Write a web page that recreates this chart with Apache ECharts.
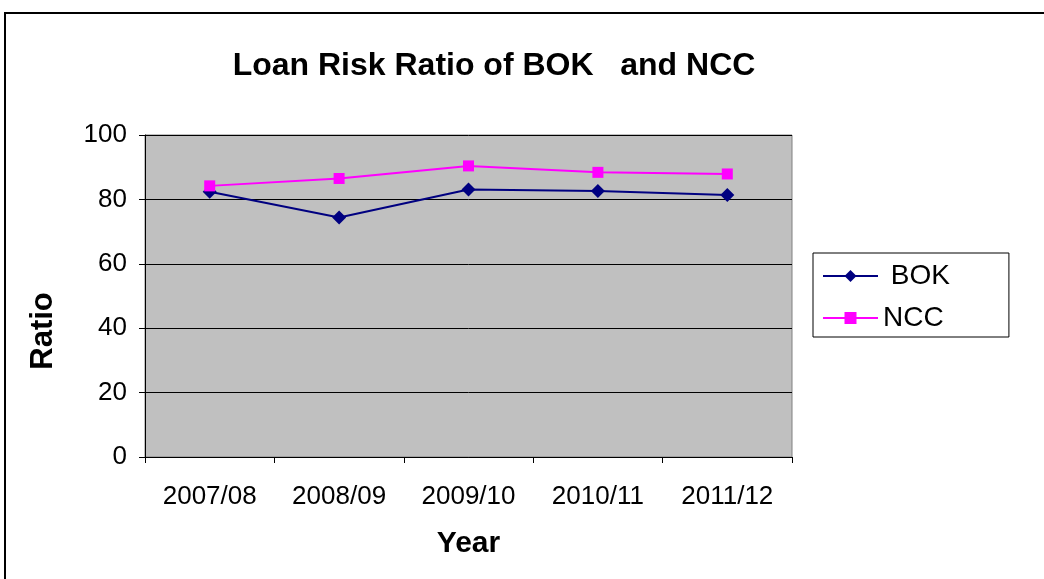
<!DOCTYPE html>
<html><head><meta charset="utf-8">
<script src="https://cdn.jsdelivr.net/npm/echarts@6/dist/echarts.min.js"></script>
<style>html,body{margin:0;padding:0;background:#fff}#c{width:1044px;height:579px}</style>
</head><body><div id="c"></div>
<script>
const categories = ['2007/08','2008/09','2009/10','2010/11','2011/12'];
const bok = [82.4, 74.4, 83.1, 82.6, 81.4];
const ncc = [84.2, 86.5, 90.4, 88.4, 87.9];
const yTicks = [0, 20, 40, 60, 80, 100];

const chart = echarts.init(document.getElementById('c'));
const F = 'Arial, "Liberation Sans", sans-serif';
chart.setOption({
  animation: false,
  backgroundColor: '#fff',
  title: {
    text: 'Loan Risk Ratio of BOK   and NCC',
    left: 489, top: 45, textAlign: 'center',
    textStyle: {fontFamily: F, fontSize: 32, fontWeight: 'bold', color: '#000'}
  },
  graphic: [{
    type: 'rect', shape: {x: 5, y: 13, width: 1060, height: 600},
    style: {fill: 'none', stroke: '#000', lineWidth: 2}, z: 100
  }, {
    type: 'text', x: 43, y: 331, rotation: Math.PI / 2,
    style: {text: 'Ratio', fontFamily: F, fontSize: 31, fontWeight: 'bold', fill: '#000',
      align: 'center', verticalAlign: 'middle'}
  }],
  legend: {
    orient: 'vertical', left: 813, top: 253,
    padding: [9, 59, 5, 9], itemGap: 14,
    borderColor: '#000', borderWidth: 1,
    itemWidth: 55, itemHeight: 15,
    textStyle: {fontFamily: F, fontSize: 28, color: '#000'},
    formatter: n => n === 'BOK' ? ' BOK' : n,
    data: ['BOK', 'NCC']
  },
  grid: {left: 145, top: 135, width: 647, height: 322, show: true,
    backgroundColor: '#C0C0C0', borderColor: '#808080', borderWidth: 1},
  xAxis: {
    type: 'category', data: categories, boundaryGap: true,
    name: 'Year', nameLocation: 'middle', nameGap: 72,
    nameTextStyle: {fontFamily: F, fontSize: 30, fontWeight: 'bold', color: '#000'},
    axisLine: {lineStyle: {color: '#000', width: 1}},
    axisTick: {show: true, length: 6, lineStyle: {color: '#000'}},
    axisLabel: {fontFamily: F, fontSize: 26, color: '#000', margin: 27}
  },
  yAxis: {
    type: 'value', min: 0, max: 100, interval: 20,
    axisLine: {show: true, lineStyle: {color: '#000'}},
    axisTick: {show: true, length: 6, lineStyle: {color: '#000'}},
    axisLabel: {fontFamily: F, fontSize: 26, color: '#000', margin: 18,
      formatter: v => yTicks.includes(v) ? String(v) : ''},
    splitLine: {show: true, lineStyle: {color: '#000', width: 1}}
  },
  series: [
    {name: 'BOK', type: 'line', data: bok, symbol: 'diamond', symbolSize: 14,
      lineStyle: {color: '#000080', width: 2}, itemStyle: {color: '#000080'}},
    {name: 'NCC', type: 'line', data: ncc, symbol: 'rect', symbolSize: 11,
      lineStyle: {color: '#FF00FF', width: 2}, itemStyle: {color: '#FF00FF'}}
  ]
});
</script></body></html>
